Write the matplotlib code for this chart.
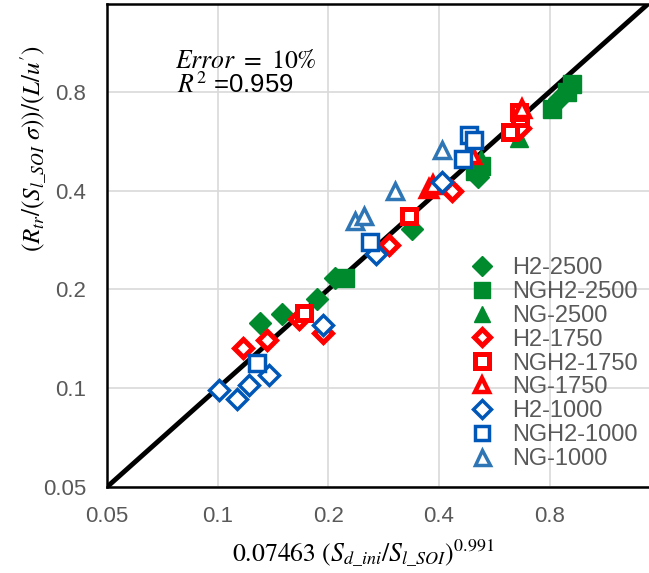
import numpy as np
import matplotlib
matplotlib.use("Agg")
import matplotlib.pyplot as plt

plt.rcParams['font.family'] = ['Liberation Sans', 'DejaVu Sans']
plt.rcParams['mathtext.fontset'] = 'stix'

# measured vs. correlated flame radius, grouped by fuel and pressure
h2_2500_x = [0.130, 0.150, 0.186, 0.209, 0.338, 0.51, 0.85]
h2_2500_y = [0.158, 0.168, 0.187, 0.216, 0.305, 0.44, 0.76]
ngh2_2500_x = [0.222, 0.50, 0.52, 0.81, 0.89, 0.92]
ngh2_2500_y = [0.217, 0.46, 0.475, 0.71, 0.80, 0.845]
ng_2500_x = [0.52, 0.66]
ng_2500_y = [0.50, 0.58]

h2_1750_x = [0.117, 0.136, 0.166, 0.193, 0.292, 0.435, 0.663]
h2_1750_y = [0.133, 0.140, 0.162, 0.147, 0.273, 0.40, 0.62]
ngh2_1750_x = [0.172, 0.332, 0.622, 0.663, 0.66]
ngh2_1750_y = [0.170, 0.334, 0.603, 0.663, 0.695]
ng_1750_x = [0.375, 0.385, 0.493, 0.672]
ng_1750_y = [0.405, 0.415, 0.512, 0.71]

h2_1000_x = [0.101, 0.113, 0.122, 0.138, 0.193, 0.270, 0.408]
h2_1000_y = [0.0988, 0.093, 0.102, 0.110, 0.156, 0.256, 0.424]
ngh2_1000_x = [0.128, 0.260, 0.466, 0.483, 0.498]
ngh2_1000_y = [0.119, 0.279, 0.500, 0.589, 0.569]
ng_1000_x = [0.236, 0.250, 0.303, 0.407]
ng_1000_y = [0.324, 0.335, 0.400, 0.530]

ticks = [0.05, 0.1, 0.2, 0.4, 0.8]
tick_labels = ['0.05', '0.1', '0.2', '0.4', '0.8']

GREEN = '#008A2E'
RED = '#FF0000'
BLUE = '#0057B8'
LBLUE = '#2E75B6'
GREY = '#595959'

fig = plt.figure(figsize=(6.49, 5.73), dpi=100)
ax = fig.add_axes([107 / 649, 86 / 573, 542 / 649, 483 / 573])

ax.set_xscale('log', base=2)
ax.set_yscale('log', base=2)
ax.set_xlim(0.05, 1.49)
ax.set_ylim(0.05, 1.48)

# 1:1 line
ax.axline((0.05, 0.05), (1.0, 1.0), color='black', lw=3.5, zorder=2)

series = [
    (h2_2500_x, h2_2500_y, 'H2-2500', 'D', GREEN, True, 11, 1.0),
    (ngh2_2500_x, ngh2_2500_y, 'NGH2-2500', 's', GREEN, True, 12.5, 1.0),
    (ng_2500_x, ng_2500_y, 'NG-2500', '^', GREEN, True, 13.5, 1.0),
    (h2_1750_x, h2_1750_y, 'H2-1750', 'D', RED, False, 9.5, 3.6),
    (ngh2_1750_x, ngh2_1750_y, 'NGH2-1750', 's', RED, False, 10.5, 3.6),
    (ng_1750_x, ng_1750_y, 'NG-1750', '^', RED, False, 11.5, 3.2),
    (h2_1000_x, h2_1000_y, 'H2-1000', 'D', BLUE, False, 10, 2.5),
    (ngh2_1000_x, ngh2_1000_y, 'NGH2-1000', 's', BLUE, False, 11.5, 2.5),
    (ng_1000_x, ng_1000_y, 'NG-1000', '^', LBLUE, False, 12, 2.5),
]
for xs, ys, name, mk, col, filled, ms, mew in series:
    ax.plot(xs, ys, ls='none', marker=mk, ms=ms, mew=mew,
            mec=col, mfc=col if filled else 'white', label=name, zorder=3)

ax.set_xticks(ticks)
ax.set_xticklabels(tick_labels)
ax.set_yticks(ticks)
ax.set_yticklabels(tick_labels)
ax.minorticks_off()
ax.tick_params(length=0, labelsize=16, labelcolor=GREY)
ax.tick_params(axis='x', pad=14)
ax.tick_params(axis='y', pad=15)
ax.grid(True, color='#D9D9D9', lw=1.2, zorder=0)
ax.set_axisbelow(True)

for side in ['left', 'top', 'bottom']:
    ax.spines[side].set_linewidth(1.8)
ax.spines['right'].set_visible(False)

ax.set_xlabel(r'$0.07463\ (S_{d\_ini}/S_{l\_SOI})^{0.991}$', fontsize=18.5, va='center')
ax.xaxis.set_label_coords(0.472, -0.137)
ax.set_ylabel(r"$(R_{tr}/(S_{l\_SOI}\ \sigma))/(L/u')$", fontsize=18, va='center')
ax.yaxis.set_label_coords(-0.1365, 0.70)

fig.text(175 / 649, 1 - 68 / 573, r'$Error\ =\ 10\%$', fontsize=18.5, ha='left', va='baseline')
fig.text(177 / 649, 1 - 93 / 573, r'$R^2$ =0.959', fontsize=18.5, ha='left', va='baseline')

leg = ax.legend(loc='upper left', bbox_to_anchor=(470 / 649, 1 - 257 / 573),
                bbox_transform=fig.transFigure, frameon=False, fontsize=17,
                labelspacing=0.08, handlelength=1.0, handletextpad=0.8,
                borderpad=0, borderaxespad=0, numpoints=1, markerscale=0.9)
for t in leg.get_texts():
    t.set_color(GREY)

fig.savefig('out.png', dpi=100)
